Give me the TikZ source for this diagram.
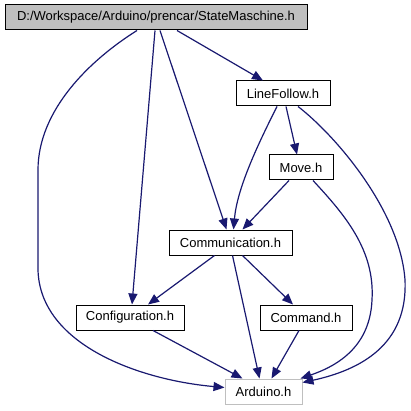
\documentclass[tikz,border=0pt]{standalone}
\usepackage{fontspec}
\setmainfont{Liberation Sans}
\usepackage{tikz}
\usetikzlibrary{arrows.meta}
\usepackage{xcolor}
\definecolor{edgeblue}{HTML}{191970}
\definecolor{boxgray}{HTML}{BFBFBF}

\begin{document}
\begin{tikzpicture}[x=1pt, y=-1pt,
    file/.style={draw, line width=1pt, inner sep=0pt, minimum height=25pt, fill=white, font=\fontsize{13}{15}\selectfont},
    arr/.style={-{Triangle[length=11pt, width=9pt, fill=edgeblue]}, draw=edgeblue, line width=1.2pt}
]
\useasboundingbox (0,0) rectangle (410,411);

\node[file, fill=boxgray, minimum width=302pt] (sm) at (156,17.5) {D:/Workspace/Arduino/prencar/StateMaschine.h};
\node[file, minimum width=94pt] (lf) at (283,93.5) {LineFollow.h};
\node[file, minimum width=64pt] (mv) at (301,167.5) {Move.h};
\node[file, minimum width=123pt] (comm) at (230.5,242.5) {Communication.h};
\node[file, minimum width=108pt] (conf) at (130,317.5) {Configuration.h};
\node[file, minimum width=92pt] (cmd) at (306,317.5) {Command.h};
\node[file, draw=boxgray, minimum width=77pt] (ard) at (263.5,391.5) {Arduino.h};

% StateMaschine.h includes
\draw[arr] ([xshift=-19pt]sm.south) .. controls (90,60) and (38,110) .. (38,170)
    -- (38,270) .. controls (40,345) and (140,380) .. ([yshift=4pt]ard.west);
\draw[arr] ([xshift=-1pt]sm.south) -- ([xshift=2pt]conf.north);
\draw[arr] ([xshift=4pt]sm.south) -- ([xshift=-4pt]comm.north);
\draw[arr] ([xshift=21pt]sm.south) -- ([xshift=-20pt]lf.north);

% LineFollow.h includes
\draw[arr] ([xshift=-6pt]lf.south) .. controls (255,150) and (237,190) .. ([xshift=3pt]comm.north);
\draw[arr] ([xshift=3pt]lf.south) -- ([xshift=-4pt]mv.north);
\draw[arr] ([xshift=15pt]lf.south) .. controls (335,135) and (400,210) .. (405,280)
    .. controls (408,345) and (360,370) .. ([yshift=-4pt]ard.north east);

% Move.h includes
\draw[arr] ([xshift=-12pt]mv.south) -- ([xshift=12pt]comm.north);
\draw[arr] ([xshift=12pt]mv.south) .. controls (345,215) and (375,250) .. (372,300)
    .. controls (370,345) and (340,365) .. ([xshift=-2pt]ard.north east);

% Communication.h includes
\draw[arr] ([xshift=-16pt]comm.south) -- ([xshift=18pt]conf.north);
\draw[arr] ([xshift=12pt]comm.south) -- ([xshift=-13pt]cmd.north);
\draw[arr] ([xshift=2pt]comm.south) -- ([xshift=-4pt]ard.north);

% to Arduino.h
\draw[arr] ([xshift=23pt]conf.south) -- ([xshift=-21pt]ard.north);
\draw[arr] ([xshift=-7pt]cmd.south) -- ([xshift=8pt]ard.north);
\end{tikzpicture}
\end{document}
